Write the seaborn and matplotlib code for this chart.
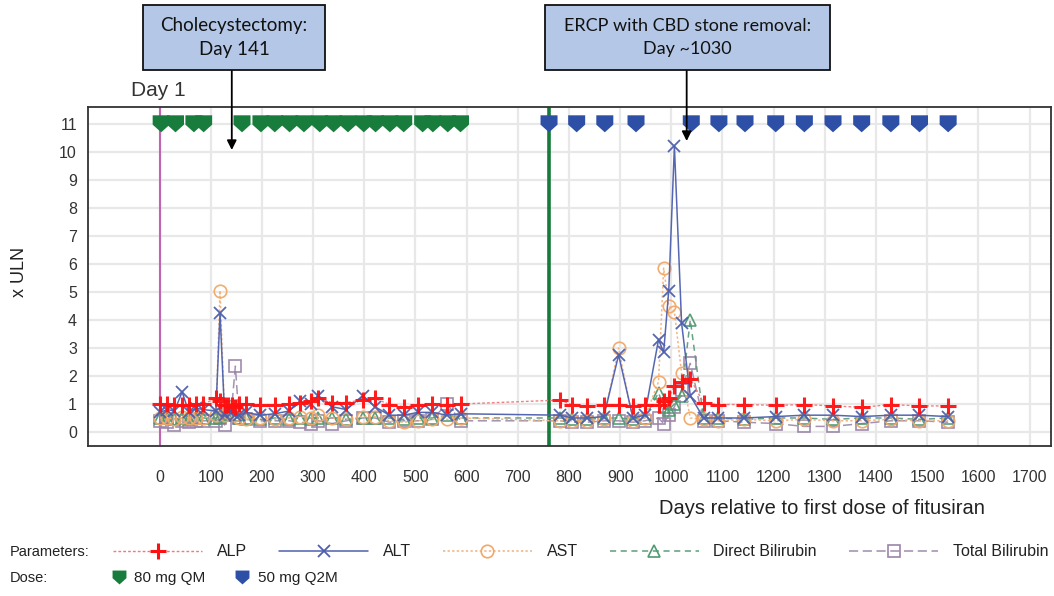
import numpy as np
import pandas as pd
import seaborn as sns
import matplotlib
matplotlib.use("Agg")
import matplotlib.pyplot as plt
from matplotlib.lines import Line2D
from matplotlib.path import Path
from matplotlib.patches import Rectangle

# ---- data -------------------------------------------------------------
lab_days = [1, 15, 29, 44, 57, 71, 85, 110, 118, 127, 134, 141, 148, 155, 169,
            197, 225, 253, 275, 295, 310, 337, 365, 397, 421, 449, 477, 505,
            533, 561, 589,
            783, 806, 836, 868, 897, 925, 948, 975, 985, 995, 1006, 1020, 1037,
            1063, 1092, 1143, 1204, 1259, 1316, 1372, 1429, 1485, 1541]

alp = [1.0, 1.0, 0.95, 0.95, 0.95, 1.0, 1.0, 1.2, 1.1, 0.95, 0.95, 0.95, 0.9,
       1.0, 1.0, 0.97, 0.95, 1.0, 1.05, 1.1, 1.2, 1.05, 1.05, 1.15, 1.2, 0.98,
       0.9, 0.95, 1.0, 0.97, 1.0,
       1.14, 0.97, 0.93, 0.95, 0.95, 0.92, 0.95, 0.95, 1.1, 1.2, 1.65, 1.8,
       1.9, 1.04, 0.98, 0.98, 0.95, 0.98, 0.93, 0.88, 0.98, 0.93, 0.93]

alt = [0.7, 0.8, 0.75, 1.43, 0.7, 0.85, 0.8, 0.75, 4.25, 0.6, 0.8, 0.7, 0.6,
       0.6, 0.7, 0.6, 0.65, 0.75, 1.1, 1.0, 1.3, 0.9, 0.8, 1.3, 0.9, 0.6, 0.6,
       0.7, 0.7, 0.6, 0.65,
       0.6, 0.5, 0.5, 0.55, 2.75, 0.5, 0.6, 3.3, 2.85, 5.05, 10.2, 3.9, 1.3,
       0.5, 0.5, 0.5, 0.55, 0.6, 0.6, 0.55, 0.6, 0.6, 0.55]

ast = [0.5, 0.5, 0.45, 0.55, 0.5, 0.5, 0.5, 0.6, 5.05, 0.6, 0.7, 0.9, 0.6,
       0.5, 0.45, 0.5, 0.45, 0.5, 0.55, 0.5, 0.6, 0.5, 0.45, 0.55, 0.55, 0.4,
       0.35, 0.4, 0.45, 0.45, 0.5,
       0.4, 0.4, 0.4, 0.45, 3.0, 0.4, 0.5, 1.8, 5.85, 4.5, 4.3, 2.1, 0.5,
       0.45, 0.4, 0.45, 0.4, 0.45, 0.4, 0.4, 0.45, 0.4, 0.4]

direct_bili = [0.5, 0.5, 0.45, 0.5, 0.45, 0.5, 0.5, 0.5, 0.55, 0.6, 0.75, 0.8,
               0.6, 0.5, 0.5, 0.45, 0.5, 0.45, 0.5, 0.45, 0.5, 0.5, 0.45, 0.5,
               0.5, 0.5, 0.45, 0.5, 0.5, 0.6, 0.5,
               0.5, 0.45, 0.45, 0.5, 0.5, 0.45, 0.5, 1.4, 0.9, 0.8, 1.0, 1.3,
               4.0, 0.5, 0.5, 0.45, 0.5, 0.5, 0.45, 0.5, 0.5, 0.45, 0.5]

total_bili = [0.4, 0.35, 0.25, 0.4, 0.35, 0.4, 0.4, 0.4, 0.5, 0.25, 0.8, 0.9,
              2.35, 0.5, 0.45, 0.4, 0.4, 0.4, 0.35, 0.3, 0.4, 0.3, 0.4, 0.5,
              0.5, 0.35, 0.4, 0.4, 0.45, 1.0, 0.4,
              0.4, 0.35, 0.35, 0.4, 0.4, 0.35, 0.4, 0.5, 0.3, 0.6, 0.9, 1.5,
              2.45, 0.4, 0.4, 0.35, 0.3, 0.2, 0.2, 0.3, 0.4, 0.4, 0.35]

dose_80_days = [3, 31, 67, 86, 161, 198, 225, 254, 282, 313, 340, 368, 399,
                422, 450, 477, 514, 534, 563, 588]
dose_50_days = [761, 815, 870, 931, 1039, 1093, 1144, 1204, 1260, 1316, 1372,
                1429, 1485, 1541]
dose_level = 11

regimen_switch_day = 760
x_ticks = list(range(0, 1800, 100))
y_ticks = list(range(0, 12))

# ---- styling ----------------------------------------------------------
sns.set_style("white")
narrow = ["Liberation Sans Narrow", "Liberation Sans", "DejaVu Sans"]
plt.rcParams["font.family"] = narrow

fig = plt.figure(figsize=(10.54, 5.96), dpi=100)
W, H = 1054, 596
ax = fig.add_axes([88 / W, 1 - 446 / H, (1051 - 88) / W, (446 - 107) / H])

ax.set_xlim(-140, 1742)
ax.set_ylim(-0.5, 11.6)
ax.set_xticks(x_ticks)
ax.set_yticks(y_ticks)
ax.grid(True, color="#e8e8e8", lw=1.6, zorder=0)
ax.set_axisbelow(True)
for s in ax.spines.values():
    s.set_color("#333333")
    s.set_linewidth(1.3)
ax.tick_params(axis="x", length=7, width=1.3, color="#222222",
               labelsize=11.5, labelcolor="#333333", pad=10)
ax.tick_params(axis="y", length=4, width=1, color="#333333",
               labelsize=11.5, labelcolor="#333333", pad=4)
for lbl in ax.get_xticklabels() + ax.get_yticklabels():
    lbl.set_family(narrow)

# reference vertical lines: day 1 and the switch to the Q2M regimen
ax.axvline(0, color="#c264b4", lw=1.5, zorder=2)
ax.axvline(regimen_switch_day, color="#157a3a", lw=2.6, zorder=2)

# ---- parameter series -------------------------------------------------
df = pd.DataFrame({"day": lab_days, "ALP": alp, "ALT": alt, "AST": ast,
                   "Direct Bilirubin": direct_bili,
                   "Total Bilirubin": total_bili})

styles = {
    "Total Bilirubin": dict(color="#a08cae", ls=(0, (6, 3)), lw=1.1,
                            marker="s", ms=9, mfc="none", mec="#9a84a8", mew=1.2),
    "Direct Bilirubin": dict(color="#5f9c80", ls=(0, (4, 3)), lw=1.1,
                             marker="^", ms=8, mfc="none", mec="#4f9a70", mew=1.2),
    "AST": dict(color="#f3b27a", ls=(0, (1.5, 1.5)), lw=1.1,
                marker="o", ms=9, mfc="none", mec="#f2a868", mew=1.2),
    "ALT": dict(color="#4d5fae", ls="-", lw=1.1,
                marker="x", ms=9, mfc="none", mec="#4d5fae", mew=1.3),
    "ALP": dict(color="#f07a7a", ls=(0, (2, 1.5)), lw=1.0,
                marker="+", ms=11, mec="#ff1010", mew=2.2),
}
for name, st in styles.items():
    sns.lineplot(data=df, x="day", y=name, ax=ax, estimator=None, sort=False,
                 legend=False, zorder=4, alpha=0.95, **st)

# ---- dose markers -----------------------------------------------------
shield = Path([(-1, 1), (1, 1), (1, -0.1), (0, -1), (-1, -0.1), (-1, 1)],
              [Path.MOVETO, Path.LINETO, Path.LINETO, Path.LINETO,
               Path.LINETO, Path.CLOSEPOLY])
sns.scatterplot(x=dose_80_days, y=[dose_level] * len(dose_80_days), ax=ax,
                marker=shield, s=150, color="#187c3c", edgecolor="none",
                zorder=5, legend=False)
sns.scatterplot(x=dose_50_days, y=[dose_level] * len(dose_50_days), ax=ax,
                marker=shield, s=150, color="#2e4fa6", edgecolor="none",
                zorder=5, legend=False)

ax.set_xlabel("")
ax.set_ylabel("")

# ---- axis titles ------------------------------------------------------
fig.text(20 / W, 1 - 272 / H, "x ULN", rotation=90, ha="center", va="center",
         fontsize=13, color="#222222", family=narrow)
fig.text(822 / W, 1 - 508 / H, "Days relative to first dose of fitusiran",
         ha="center", va="center", fontsize=14.5, color="#222222", family=narrow)
fig.text(158 / W, 1 - 90 / H, "Day 1", ha="center", va="center",
         fontsize=15, color="#333333", family=narrow)

# ---- event call-outs --------------------------------------------------
def box(x0, x1, y0, y1, text, size):
    fig.patches.append(Rectangle((x0 / W, 1 - y1 / H), (x1 - x0) / W,
                                 (y1 - y0) / H, transform=fig.transFigure,
                                 facecolor="#b4c7e7", edgecolor="#111111",
                                 lw=1.3, zorder=10))
    fig.text((x0 + x1) / 2 / W, 1 - (y0 + y1) / 2 / H, text, ha="center",
             va="center", fontsize=size, linespacing=1.5, color="#111111",
             family=["Lato", "DejaVu Sans"], zorder=11)


def callout_arrow(day, y_top_px, tip_px):
    xf = fig.transFigure.inverted().transform(ax.transData.transform((day, 0)))[0]
    tip_y = ax.transData.inverted().transform(
        fig.transFigure.transform((0, 1 - tip_px / H)))[1]
    ax.annotate("", xy=(day, tip_y), xycoords="data",
                xytext=(xf, 1 - y_top_px / H), textcoords="figure fraction",
                arrowprops=dict(arrowstyle="-|>", color="black", lw=1.3,
                                mutation_scale=14, shrinkA=0, shrinkB=0),
                annotation_clip=False, zorder=12)


box(143, 325, 5, 70, "Cholecystectomy:\nDay 141", 13.5)
box(545, 830, 5, 70, "ERCP with CBD stone removal:\nDay ~1030", 13)
callout_arrow(141, 70, 150)
callout_arrow(1030, 70, 141)

# ---- legend -----------------------------------------------------------
fig.text(10 / W, 1 - 552 / H, "Parameters:", ha="left", va="center",
         fontsize=10.5, color="#222222", family=narrow)
fig.text(10 / W, 1 - 578 / H, "Dose:", ha="left", va="center",
         fontsize=10.5, color="#222222", family=narrow)

param_names = ["ALP", "ALT", "AST", "Direct Bilirubin", "Total Bilirubin"]
param_handles = [Line2D([], [], **styles[name]) for name in param_names]
leg1 = fig.legend(param_handles, param_names,
                  loc="center left", bbox_to_anchor=(113 / W, 1 - 552 / H),
                  ncol=5, frameon=False, handlelength=5.6, handletextpad=0.9,
                  columnspacing=2.0, borderaxespad=0, borderpad=0,
                  prop={"family": narrow, "size": 11.5})
for t in leg1.get_texts():
    t.set_color("#222222")

dose_handles = [
    Line2D([], [], ls="none", marker=shield, ms=10, color="#187c3c", mec="none"),
    Line2D([], [], ls="none", marker=shield, ms=10, color="#2e4fa6", mec="none"),
]
leg2 = fig.legend(dose_handles, ["80 mg QM", "50 mg Q2M"],
                  loc="center left", bbox_to_anchor=(110 / W, 1 - 578 / H),
                  ncol=2, frameon=False, handlelength=1.2, handletextpad=0.4,
                  columnspacing=1.8, borderaxespad=0, borderpad=0,
                  prop={"family": narrow, "size": 11})
for t in leg2.get_texts():
    t.set_color("#222222")

fig.savefig("out.png", dpi=100)
